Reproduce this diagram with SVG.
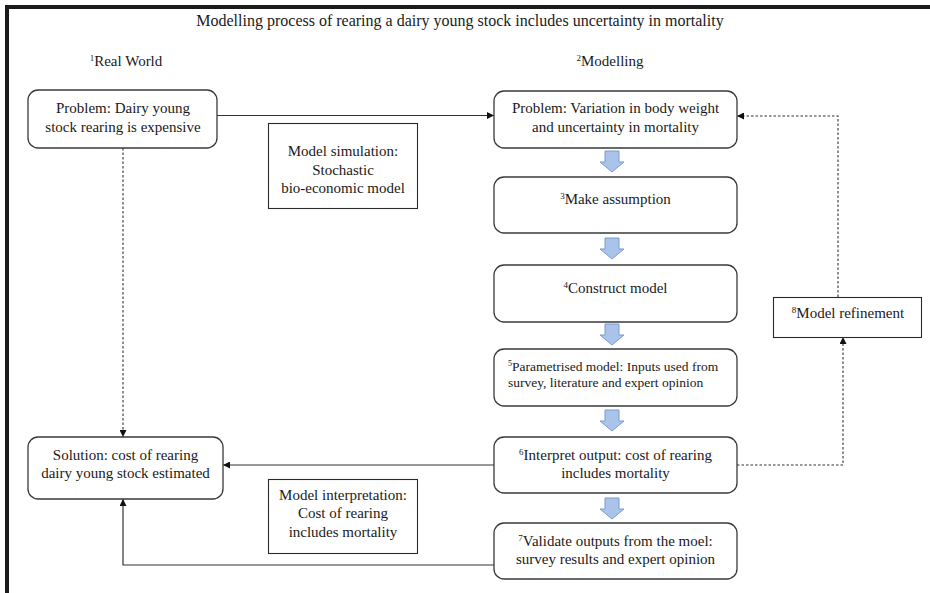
<svg xmlns="http://www.w3.org/2000/svg" width="930" height="593" viewBox="0 0 930 593">
<defs>
<style>
text{font-family:"Liberation Serif","Times New Roman",serif;font-size:15px;fill:#1a1a1a}
.c{text-anchor:middle}
.rb{fill:#fff;stroke:#3a3a3a;stroke-width:1.3}
.sq{fill:#fff;stroke:#2a2a2a;stroke-width:1.1}
.ln{fill:none;stroke:#333;stroke-width:1.2}
.dt{fill:none;stroke:#333;stroke-width:1.1;stroke-dasharray:2.5 2}
.ba{fill:#a9c3ea;stroke:#7b9bd1;stroke-width:1}
.sup{font-size:9px}
</style>
<marker id="ah" viewBox="0 0 10 10" refX="10" refY="5" markerWidth="7" markerHeight="7" markerUnits="userSpaceOnUse" orient="auto">
<path d="M0,0 L10,5 L0,10 z" fill="#111"/>
</marker>
<path id="blk" d="M-7,0 h14 v11 h5 l-12,10 l-12,-10 h5 z"/>
</defs>
<rect width="930" height="593" fill="#fff"/>
<rect x="5" y="5" width="925" height="4" fill="#1c1c1c"/>
<rect x="5" y="5" width="4" height="588" fill="#1c1c1c"/>

<text class="c" x="460" y="26" style="font-size:16px">Modelling process of rearing a dairy young stock includes uncertainty in mortality</text>
<text class="c" x="126" y="66"><tspan class="sup" dy="-5">1</tspan><tspan dy="5">Real World</tspan></text>
<text class="c" x="610" y="66"><tspan class="sup" dy="-5">2</tspan><tspan dy="5">Modelling</tspan></text>

<g id="connectors">
<line class="ln" x1="217" y1="115.5" x2="494" y2="115.5" marker-end="url(#ah)"/>
<line class="dt" x1="123" y1="148" x2="123" y2="437" marker-end="url(#ah)"/>
<line class="ln" x1="494" y1="465" x2="223" y2="465" marker-end="url(#ah)"/>
<polyline class="ln" points="494,565 123,565 123,499" marker-end="url(#ah)"/>
<polyline class="dt" points="737,465 843,465 843,337" marker-end="url(#ah)"/>
<polyline class="dt" points="838,297 838,116 737,116" marker-end="url(#ah)"/>
<use href="#blk" class="ba" x="612" y="151"/>
<use href="#blk" class="ba" x="612" y="238"/>
<use href="#blk" class="ba" x="612" y="324"/>
<use href="#blk" class="ba" x="612" y="410"/>
<use href="#blk" class="ba" x="612" y="498"/>
</g>

<g id="problem-real">
<rect class="rb" x="28" y="90" width="189" height="58" rx="10"/>
<text class="c" x="123" y="113">Problem: Dairy young</text>
<text class="c" x="123" y="131.5">stock rearing is expensive</text>
</g>

<g id="model-simulation">
<rect class="sq" x="268.5" y="123.5" width="149" height="85"/>
<text class="c" x="343" y="156">Model simulation:</text>
<text class="c" x="343" y="174.5">Stochastic</text>
<text class="c" x="343" y="193">bio-economic model</text>
</g>

<g id="problem-model">
<rect class="rb" x="494" y="91" width="243" height="57" rx="10"/>
<text class="c" x="615.5" y="113">Problem: Variation in body weight</text>
<text class="c" x="615.5" y="131.5">and uncertainty in mortality</text>
</g>

<g id="assumption">
<rect class="rb" x="494" y="177" width="243" height="56" rx="10"/>
<text class="c" x="615.5" y="204"><tspan class="sup" dy="-5">3</tspan><tspan dy="5">Make assumption</tspan></text>
</g>

<g id="construct">
<rect class="rb" x="494" y="265" width="243" height="57" rx="10"/>
<text class="c" x="615.5" y="292.5"><tspan class="sup" dy="-5">4</tspan><tspan dy="5">Construct model</tspan></text>
</g>

<g id="refinement">
<rect class="sq" x="773.5" y="297.5" width="148" height="40"/>
<text class="c" x="848" y="318"><tspan class="sup" dy="-5">8</tspan><tspan dy="5">Model refinement</tspan></text>
</g>

<g id="parametrised">
<rect class="rb" x="494" y="349" width="243" height="57" rx="10"/>
<text x="508" y="370.5" style="font-size:13.5px"><tspan class="sup" dy="-5" style="font-size:8px">5</tspan><tspan dy="5">Parametrised model: Inputs used from</tspan></text>
<text x="508" y="387" style="font-size:13.5px">survey, literature and expert opinion</text>
</g>

<g id="interpret">
<rect class="rb" x="494" y="437" width="243" height="56" rx="10"/>
<text class="c" x="615.5" y="460"><tspan class="sup" dy="-5">6</tspan><tspan dy="5">Interpret output: cost of rearing</tspan></text>
<text class="c" x="615.5" y="478">includes mortality</text>
</g>

<g id="validate">
<rect class="rb" x="494" y="523" width="243" height="56" rx="10"/>
<text class="c" x="615.5" y="546"><tspan class="sup" dy="-5">7</tspan><tspan dy="5">Validate outputs from the moel:</tspan></text>
<text class="c" x="615.5" y="563.5">survey results and expert opinion</text>
</g>

<g id="solution">
<rect class="rb" x="28" y="437" width="195" height="62" rx="10"/>
<text class="c" x="125.5" y="460">Solution: cost of rearing</text>
<text class="c" x="125.5" y="478">dairy young stock estimated</text>
</g>

<g id="model-interpretation">
<rect class="sq" x="268.5" y="479.5" width="149" height="74"/>
<text class="c" x="343" y="499.5">Model interpretation:</text>
<text class="c" x="343" y="518">Cost of rearing</text>
<text class="c" x="343" y="537">includes mortality</text>
</g>
</svg>
